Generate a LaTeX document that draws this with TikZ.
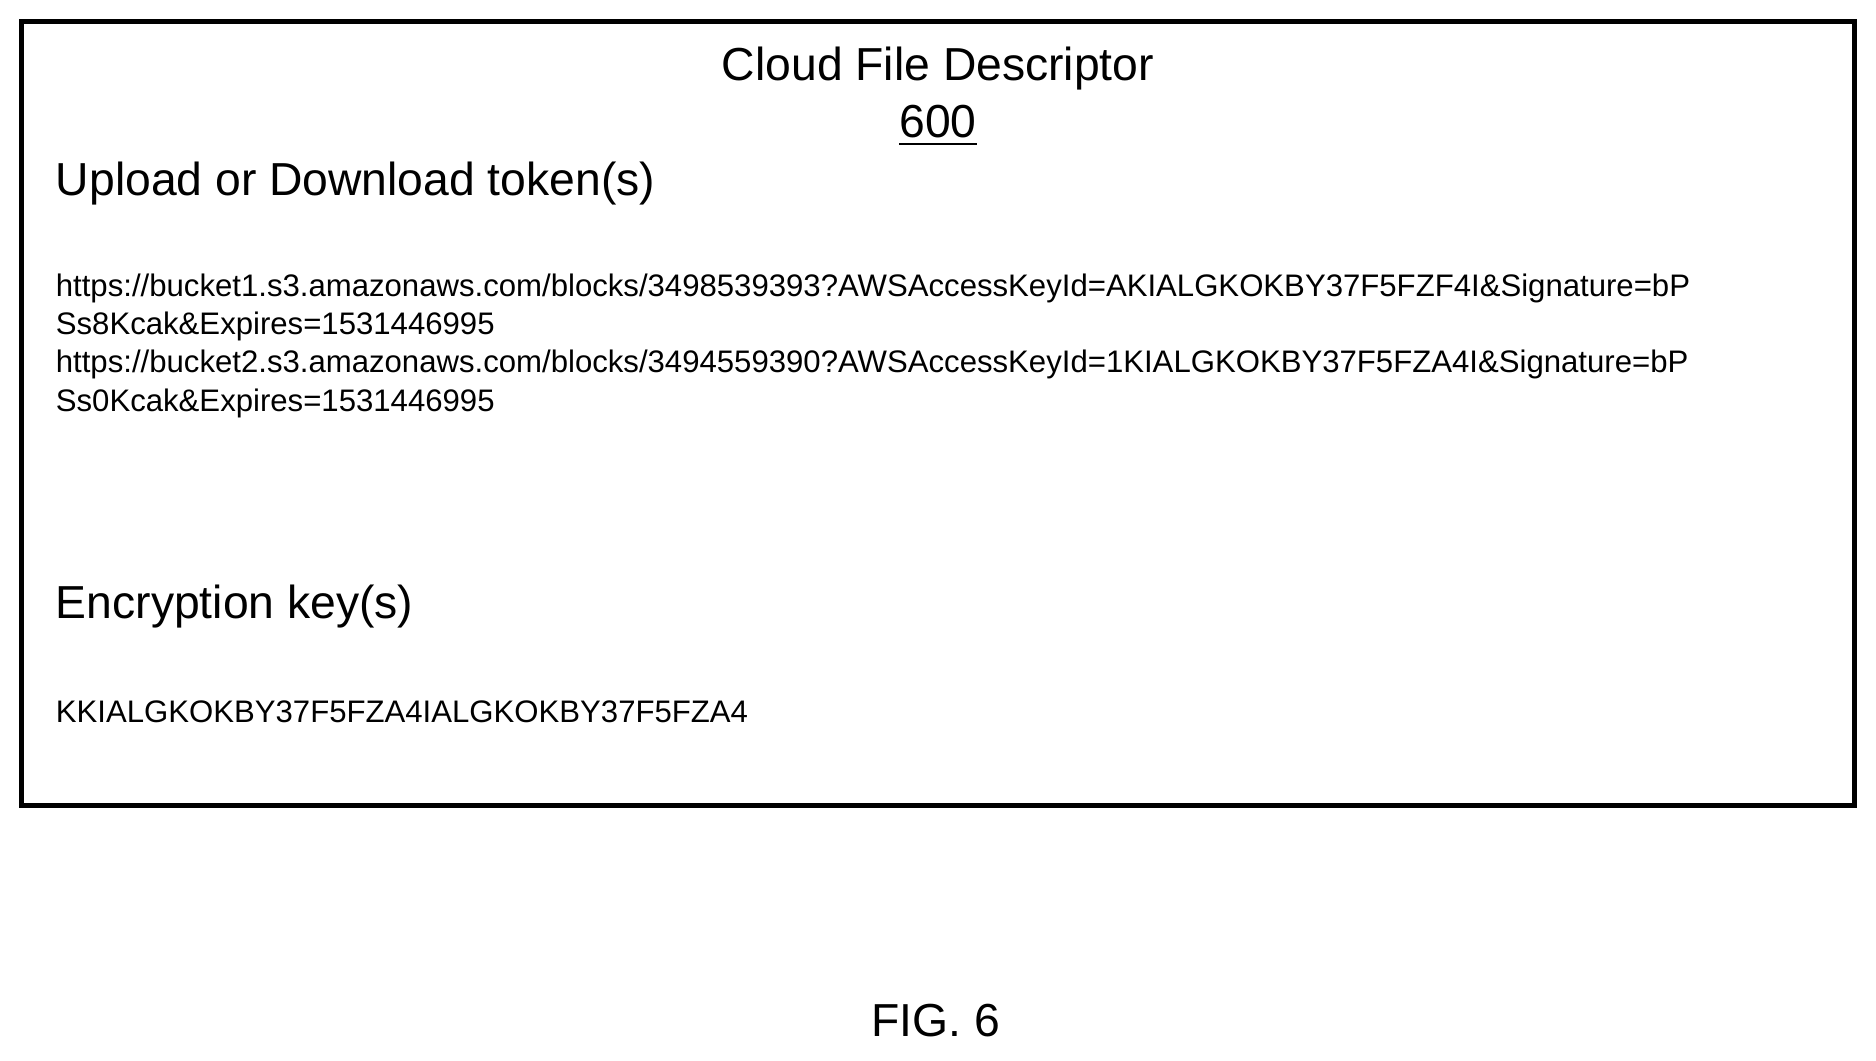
\documentclass[tikz,border=0pt]{standalone}
\usepackage{fontspec}
\setmainfont{Liberation Sans}
\begin{document}
\begin{tikzpicture}[x=0.01cm,y=-0.01cm,
  big/.style={font=\fontsize{11}{13}\selectfont,inner sep=0},
  small/.style={font=\fontsize{7.4}{9}\selectfont,inner sep=0,anchor=west}]
\useasboundingbox (0,0) rectangle (1568,886);
\draw[line width=1.2pt] (18,18) rectangle (1550,673);
\node[big] (title) at (784,57) {Cloud File Descriptor};
\node[big] (num) at (784,105) {\underline{600}};
\node[big,anchor=west] (up) at (46,153) {Upload or Download token(s)};
\node[small] (u1) at (46,241) {https://bucket1.s3.amazonaws.com/blocks/3498539393?AWSAccessKeyId=AKIALGKOKBY37F5FZF4I\&Signature=bP};
\node[small] (u2) at (46,273) {Ss8Kcak\&Expires=1531446995};
\node[small] (u3) at (46,305) {https://bucket2.s3.amazonaws.com/blocks/3494559390?AWSAccessKeyId=1KIALGKOKBY37F5FZA4I\&Signature=bP};
\node[small] (u4) at (46,337) {Ss0Kcak\&Expires=1531446995};
\node[big,anchor=west] (enc) at (46,507) {Encryption key(s)};
\node[small] (key) at (46,595) {KKIALGKOKBY37F5FZA4IALGKOKBY37F5FZA4};
\node[big] (fig) at (782,853) {FIG. 6};
\end{tikzpicture}
\end{document}
